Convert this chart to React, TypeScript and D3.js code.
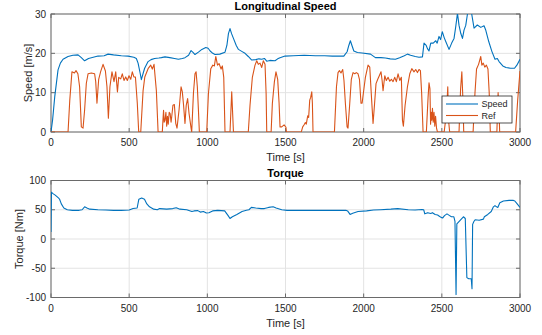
import React from "react";
import * as d3 from "d3";

const xTicks = [0, 500, 1000, 1500, 2000, 2500, 3000];
const speedTicks = [0, 10, 20, 30];
const torqueTicks = [-100, -50, 0, 50, 100];

const speedData: [number, number][] = [
  [0,0],[10,3],[24,9],[45,15.8],[60,17.5],[77,18.5],[109,19.2],[140,19.5],[173,19.6],[194,18.9],[215,18.1],[240,18.7],[270,19],[301,19.3],[340,19.4],[365,19.8],[400,19.6],[450,19.4],[493,19.3],[530,19],[546,18.7],[557,17.5],[570,15],[578,13.3],[590,15],[599,16.2],[621,17.9],[640,18.4],[663,18.7],[690,18.8],[706,18.9],[729,19.1],[760,18.9],[790,18.7],[815,18.5],[840,18.7],[857,18.9],[880,19.5],[896,20.7],[910,20.2],[921,19.7],[943,20.3],[965,21],[990,21.5],[1005,21.3],[1018,20.6],[1035,20],[1049,19.7],[1080,19.8],[1113,20.3],[1125,22],[1135,25],[1145,26.3],[1155,25],[1167,23.8],[1185,22],[1199,21],[1220,20.5],[1241,20],[1262,19.2],[1284,18.3],[1310,18.4],[1330,18.6],[1348,18.5],[1365,18.7],[1380,18],[1400,18.2],[1433,18.1],[1450,18.6],[1465,18.9],[1497,19.3],[1550,19.4],[1620,19.5],[1691,19.4],[1750,19.4],[1800,19.3],[1873,19.3],[1894,20.4],[1905,22],[1915,23.2],[1925,22],[1937,20.6],[1960,20.2],[1990,20.1],[2044,19.8],[2075,18.9],[2110,18.9],[2139,18.8],[2170,18.6],[2203,18.5],[2230,18.9],[2260,19.4],[2280,19.8],[2300,19.5],[2330,19.2],[2354,19],[2376,19.1],[2386,22.6],[2400,22],[2408,21.2],[2418,20.6],[2429,22.6],[2445,22.6],[2461,23.2],[2470,22.6],[2482,24.3],[2492,23.5],[2503,25.5],[2515,24],[2525,23],[2546,21],[2563,22.6],[2578,23.8],[2589,26.8],[2600,30.2],[2610,27.1],[2621,25.1],[2632,23.8],[2642,25.9],[2653,27.1],[2664,30],[2674,31],[2685,31],[2691,30],[2706,26.4],[2727,27.2],[2749,26.6],[2770,27],[2780,26],[2800,23],[2820,20.5],[2840,18.5],[2855,18.7],[2866,17.9],[2890,16.8],[2910,16.4],[2940,16.2],[2965,16.2],[2980,17],[3000,18.5]
];

const refData: [number, number][] = [
  [0,0],[109,0],[120,8],[134,15.3],[150,15],[160,15.6],[172,14.8],[183,11.5],[194,1.3],[205,1],[215,5.6],[226,12.4],[237,14.8],[258,15],[279,14.8],[286,12.8],[294,7.3],[305,13.4],[318,15.4],[333,17.2],[348,15.5],[358,11.5],[367,3.5],[377,11.5],[390,15.3],[403,12.8],[414,15.3],[425,10.2],[433,13.9],[446,13.5],[456,14.8],[467,13.1],[478,14],[488,13.1],[499,14.3],[510,13.4],[520,15.3],[530,14],[540,14],[552,7.3],[561,0],[574,0],[589,10.5],[600,14],[621,16.1],[638,17],[648,16],[659,17.2],[674,10.5],[685,0],[712,0],[716,3],[720,5.5],[724,2.5],[729,3],[735,5],[740,1.5],[745,4],[750,2],[756,5],[762,4.7],[768,2.5],[772,3.8],[780,6.8],[789,7],[798,2.2],[806,1],[819,5.6],[832,11.5],[840,10.2],[848,6.8],[857,2.2],[865,6.8],[874,8.5],[883,4.7],[896,1],[900,0],[911,9.8],[921,14.8],[928,15.3],[936,11.5],[943,5.6],[949,0],[996,0],[1007,9.8],[1022,16.1],[1035,17],[1045,16.8],[1054,19.2],[1065,17],[1075,17.4],[1088,16],[1096,16.8],[1105,13.9],[1113,0],[1145,0],[1156,10.2],[1167,0],[1262,0],[1273,6.8],[1288,13.9],[1305,17],[1316,18.1],[1326,17.2],[1337,17.5],[1348,16.4],[1358,18.1],[1369,17.2],[1376,9.8],[1380,0],[1408,0],[1416,7.3],[1429,12.8],[1439,15.3],[1450,13.4],[1459,7.3],[1465,1.3],[1476,1.3],[1491,1.8],[1503,1.2],[1506,0],[1601,0],[1610,1.3],[1618,1.8],[1627,2.4],[1633,2],[1642,4.1],[1648,3.7],[1655,8.1],[1661,8.8],[1668,10.2],[1672,7.3],[1676,0],[1813,0],[1826,11.5],[1836,15.1],[1845,15.6],[1855,15],[1866,15.9],[1874,13.1],[1883,7.3],[1894,1.3],[1900,1],[1911,7.3],[1921,13.4],[1932,15.1],[1943,14.8],[1953,15.1],[1964,14.8],[1973,13.4],[1983,7.3],[1990,7.3],[2000,10.5],[2011,13.9],[2028,17],[2039,16.5],[2050,8.8],[2060,2.2],[2069,6.8],[2079,12.3],[2090,13.4],[2100,14.3],[2111,15.3],[2118,13.1],[2124,10.5],[2135,14.3],[2145,13.1],[2156,13.9],[2167,12.9],[2177,13.4],[2188,12.8],[2199,13.9],[2209,12.8],[2220,14.8],[2231,13.1],[2241,13.9],[2248,3],[2254,1.5],[2265,6.8],[2280,11.5],[2295,14.8],[2308,16.1],[2322,15.3],[2333,15.9],[2344,15.1],[2354,15.9],[2363,15.6],[2371,9.8],[2380,0],[2401,0],[2412,8.8],[2418,12.5],[2424,11],[2428,2],[2432,5],[2436,3],[2440,6],[2445,2.5],[2450,5],[2455,1.5],[2460,4],[2466,1],[2472,0],[2515,0],[2530,5],[2538,11.5],[2543,3],[2550,0],[2610,0],[2620,11],[2628,15.3],[2635,8],[2640,0],[2700,0],[2712,10],[2722,16],[2735,17.2],[2749,19.2],[2756,17],[2765,17.5],[2775,16.5],[2785,17],[2795,16],[2803,10],[2810,0],[2852,0],[2860,10],[2866,5],[2870,0],[2972,0],[2985,8],[3000,15.5]
];

const torqueData: [number, number][] = [
  [0,12],[3,80],[10,78],[27,75],[49,70],[55,68],[66,60],[82,53],[104,50],[137,49],[180,49],[199,50],[215,55],[230,53],[248,51],[300,50],[350,49.5],[400,49],[450,49],[500,49.5],[525,52],[551,53],[562,68],[580,70],[598,68],[613,60],[630,55],[657,51],[680,50],[695,52],[740,51],[779,52],[801,53.5],[825,51],[868,50],[901,47],[915,48],[939,48.5],[955,46],[975,47],[994,44.5],[1010,45],[1034,48],[1067,49],[1111,48],[1133,40],[1145,35],[1160,38],[1189,42],[1222,47],[1250,49],[1266,50],[1282,54],[1310,53],[1344,52],[1365,52],[1392,54],[1421,55],[1440,53],[1476,50],[1510,49],[1700,49],[1886,49],[1897,48],[1913,42],[1930,44],[1964,47],[2019,48],[2063,49.5],[2108,50],[2174,51],[2218,52],[2285,50],[2329,49.5],[2373,50.5],[2384,50],[2391,43],[2410,45],[2429,43.5],[2440,45],[2457,42],[2473,41],[2484,39],[2495,37],[2506,36],[2517,40],[2533,43],[2550,40],[2561,38],[2577,38],[2584,30],[2591,-95],[2596,26],[2617,32],[2638,38],[2650,35],[2660,-66],[2672,-68],[2688,-68],[2693,-85],[2697,25],[2705,30],[2713,33],[2739,32],[2766,34],[2772,38],[2794,42],[2816,47],[2830,55],[2840,57],[2850,55],[2858,54],[2871,62],[2894,65],[2930,66],[2958,66],[2967,65],[2982,60],[3000,54]
];

const FONT = "'Liberation Sans', Arial, Helvetica, sans-serif";
const TEXT = "#262626";
const BLUE = "#0072BD";
const ORANGE = "#D95319";

const L = 51, R = 520;

type Series = { data: [number, number][]; color: string; name: string };

function Panel(props: {
  top: number; bottom: number; domain: [number, number]; yTicks: number[];
  series: Series[]; title: string; ylabel: string; ylabelX: number; id: string; legend?: boolean;
}) {
  const { top, bottom, domain, yTicks, series, title, ylabel, ylabelX, id, legend } = props;
  const x = d3.scaleLinear().domain([0, 3000]).range([L, R]);
  const y = d3.scaleLinear().domain(domain).range([bottom, top]);
  const line = d3.line<[number, number]>().x(d => x(d[0])).y(d => y(d[1]));
  const tl = 4;
  return (
    <g>
      <defs>
        <clipPath id={id}>
          <rect x={L} y={top} width={R - L} height={bottom - top} />
        </clipPath>
      </defs>
      <rect x={L} y={top} width={R - L} height={bottom - top} fill="#fff" />
      {xTicks.map(t => (
        <line key={"gx" + t} x1={x(t)} x2={x(t)} y1={top} y2={bottom} stroke="#e3e3e3" strokeWidth={1} />
      ))}
      {yTicks.map(t => (
        <line key={"gy" + t} x1={L} x2={R} y1={y(t)} y2={y(t)} stroke="#e3e3e3" strokeWidth={1} />
      ))}
      <rect x={L} y={top} width={R - L} height={bottom - top} fill="none" stroke="#6a6a6a" strokeWidth={1} />
      {xTicks.map(t => (
        <g key={"tx" + t}>
          <line x1={x(t)} x2={x(t)} y1={bottom} y2={bottom - tl} stroke="#6a6a6a" />
          <line x1={x(t)} x2={x(t)} y1={top} y2={top + tl} stroke="#6a6a6a" />
          <text x={x(t)} y={bottom + 14} textAnchor="middle" fontSize={10} fill={TEXT} fontFamily={FONT}>{t}</text>
        </g>
      ))}
      {yTicks.map(t => (
        <g key={"ty" + t}>
          <line x1={L} x2={L + tl} y1={y(t)} y2={y(t)} stroke="#6a6a6a" />
          <line x1={R} x2={R - tl} y1={y(t)} y2={y(t)} stroke="#6a6a6a" />
          <text x={46} y={y(t) + 3.6} textAnchor="end" fontSize={10} fill={TEXT} fontFamily={FONT}>{t}</text>
        </g>
      ))}
      <g clipPath={`url(#${id})`}>
        {series.map(s => (
          <path key={s.name} d={line(s.data) || ""} fill="none" stroke={s.color} strokeWidth={1.1} strokeLinejoin="round" />
        ))}
      </g>
      <text x={(L + R) / 2} y={top - 4} textAnchor="middle" fontSize={11} fontWeight="bold" fill="#000" fontFamily={FONT}>{title}</text>
      <text x={(L + R) / 2} y={bottom + 29} textAnchor="middle" fontSize={11} fill={TEXT} fontFamily={FONT}>Time [s]</text>
      <text transform={`translate(${ylabelX},${(top + bottom) / 2}) rotate(-90)`} textAnchor="middle" fontSize={11} fill={TEXT} fontFamily={FONT}>{ylabel}</text>
      {legend && (
        <g>
          <rect x={442} y={96} width={70} height={27} fill="#fff" stroke="#262626" strokeWidth={0.8} />
          {series.map((s, i) => (
            <g key={"lg" + s.name}>
              <line x1={446} x2={478} y1={104 + i * 11.5} y2={104 + i * 11.5} stroke={s.color} strokeWidth={1.1} />
              <text x={481.5} y={107.3 + i * 11.5} fontSize={9} fill={TEXT} fontFamily={FONT}>{s.name}</text>
            </g>
          ))}
        </g>
      )}
    </g>
  );
}

export default function App() {
  return (
    <svg width={542} height={335} style={{ position: "absolute", left: 0, top: 0, background: "#fff" }}>
      <rect width={542} height={335} fill="#fff" />
      <Panel top={14} bottom={132} domain={[0, 30]} yTicks={speedTicks} id="c1" legend
        series={[{ data: speedData, color: BLUE, name: "Speed" }, { data: refData, color: ORANGE, name: "Ref" }]}
        title="Longitudinal Speed" ylabel="Speed [m/s]" ylabelX={32} />
      <Panel top={180.5} bottom={297.5} domain={[-100, 100]} yTicks={torqueTicks} id="c2"
        series={[{ data: torqueData, color: BLUE, name: "Torque" }]}
        title="Torque" ylabel="Torque [Nm]" ylabelX={23} />
    </svg>
  );
}
